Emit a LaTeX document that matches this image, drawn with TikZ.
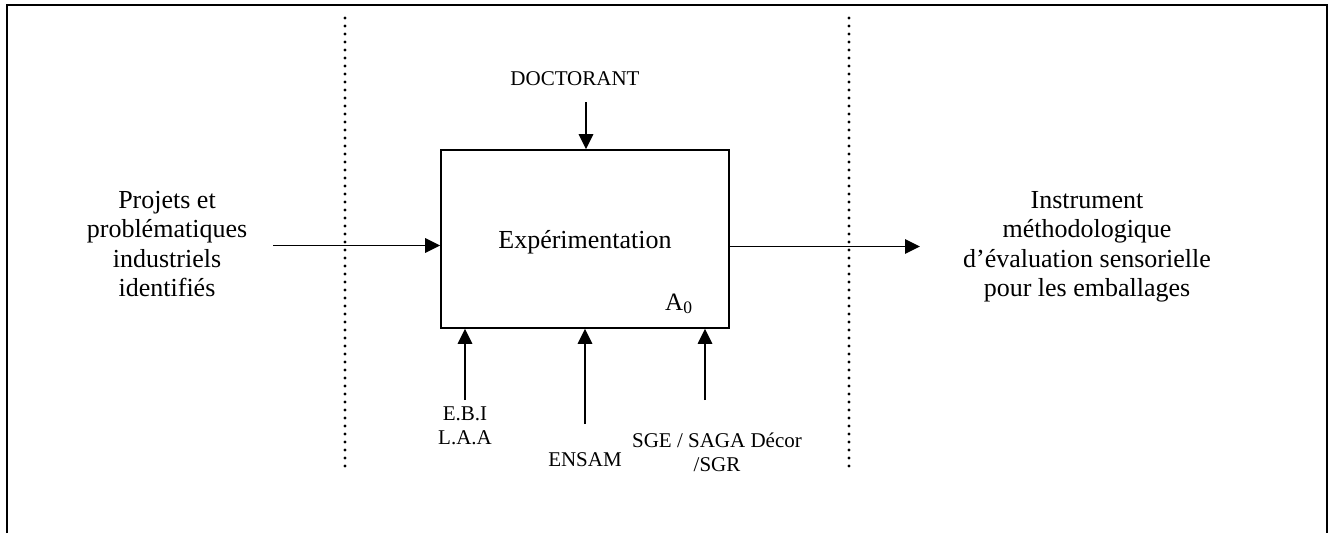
\documentclass[tikz,border=0pt]{standalone}
\usepackage{fontspec}
\setmainfont{Liberation Serif}
\usetikzlibrary{arrows.meta}
\begin{document}
\begin{tikzpicture}[x=1pt,y=-1pt,
  bigtxt/.style={font=\fontsize{26}{29.5}\selectfont, align=center, inner sep=0pt},
  smalltxt/.style={font=\fontsize{21}{24}\selectfont, align=center, inner sep=0pt},
  conn/.style={line width=1.6pt, -{Triangle[length=15pt,width=14.5pt]}},
  sep/.style={line width=3.4pt, line cap=round, dash pattern=on 0pt off 8pt},
  frame/.style={line width=2pt}]
\useasboundingbox (0,0) rectangle (1332,533);
% outer frame (open at bottom)
\draw[frame] (7,533) -- (7,5) -- (1327,5) -- (1327,533);
% dotted separators
\draw[sep] (345,18) -- (345,467);
\draw[sep] (849,18) -- (849,467);
% activity box
\node[draw, line width=1.8pt, minimum width=288pt, minimum height=178pt, inner sep=0pt] (box) at (585,239) {};
\node[bigtxt] (exp) at (585,242) {Expérimentation};
\node[smalltxt, font=\fontsize{25}{28}\selectfont, anchor=base west] (a0) at (665,310) {A\textsubscript{0}};
% control
\node[smalltxt, anchor=base] (doc) at (575,85) {DOCTORANT};
\coordinate (docs) at (586,102);
\draw[conn] (docs) -- (docs |- box.north);
% input
\node[bigtxt] (inp) at (167,244) {Projets et\\problématiques\\industriels\\identifiés};
\coordinate (ins) at (273,245.5);
\draw[conn] (ins) -- (ins -| box.west);
% output
\node[bigtxt] (out) at (1087,247) {Instrument\\méthodologique\\d’évaluation sensorielle\\pour les emballages};
\coordinate (oute) at (920,246.5);
\draw[conn] (oute -| box.east) -- (oute);
% mechanisms
\coordinate (m1) at (465,400);
\coordinate (m2) at (585,424);
\coordinate (m3) at (705,400);
\draw[conn] (m1) -- (m1 |- box.south);
\draw[conn] (m2) -- (m2 |- box.south);
\draw[conn] (m3) -- (m3 |- box.south);
\node[smalltxt] (ebi) at (465,426) {E.B.I\\L.A.A};
\node[smalltxt, anchor=base] (ensam) at (585,466) {ENSAM};
\node[smalltxt] (sge) at (717,452) {SGE / SAGA Décor\\/SGR};
\end{tikzpicture}
\end{document}
